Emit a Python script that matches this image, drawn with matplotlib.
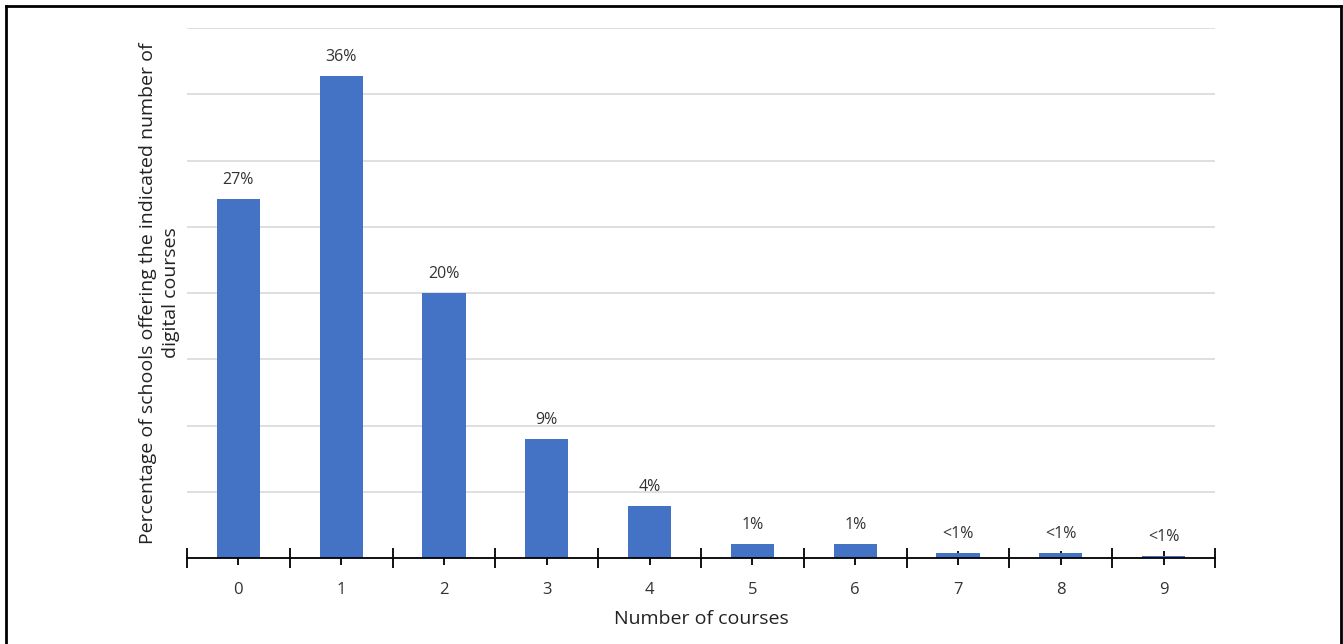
import matplotlib
matplotlib.use("Agg")
import matplotlib.pyplot as plt
from matplotlib.lines import Line2D

categories = ["0", "1", "2", "3", "4", "5", "6", "7", "8", "9"]
values = [27.1, 36.4, 20.0, 9.0, 3.9, 1.05, 1.05, 0.38, 0.38, 0.15]
labels = ["27%", "36%", "20%", "9%", "4%", "1%", "1%", "<1%", "<1%", "<1%"]

plt.rcParams['font.family'] = ['Open Sans', 'DejaVu Sans']

fig = plt.figure(figsize=(13.43, 6.44), dpi=100)
ax = fig.add_axes([187/1343, 1-558/644, (1215-187)/1343, (558-28)/644])

x = list(range(len(categories)))
ax.bar(x, values, width=0.42, color="#4472C4", zorder=3)
for xi, v, lab in zip(x, values, labels):
    ax.annotate(lab, (xi, v), xytext=(0, 8), textcoords="offset points",
                ha="center", va="bottom", fontsize=11.5, color="#333333")

ax.set_xlim(-0.5, 9.5)
ax.set_ylim(0, 40)
ax.set_yticks(range(0, 41, 5))
ax.yaxis.grid(True, color="#D9D9D9", linewidth=1.2, zorder=0)
ax.tick_params(axis="y", length=0, labelleft=False)
for s in ["top", "right", "left"]:
    ax.spines[s].set_visible(False)
ax.spines["bottom"].set_color("#000000")
ax.spines["bottom"].set_linewidth(1.3)
ax.spines["bottom"].set_zorder(4)

ax.set_xticks([i - 0.5 for i in range(11)])
ax.set_xticklabels([])
ax.tick_params(axis="x", which="major", direction="inout", length=14, width=1.3, color="#000000")
ax.set_xticks(x, minor=True)
ax.set_xticklabels(categories, minor=True, fontsize=12, color="#333333")
ax.tick_params(axis="x", which="minor", direction="inout", length=10, width=1.3, color="#000000", pad=12)

ax.set_xlabel("Number of courses", fontsize=14, color="#222222", labelpad=9)
ax.set_ylabel("Percentage of schools offering the indicated number of\ndigital courses",
              fontsize=14, color="#222222", labelpad=5, linespacing=1.35)

# figure border (top, left, right)
fig.add_artist(Line2D([6/1343, 6/1343], [0, 1-6/644], color="black", lw=2, transform=fig.transFigure))
fig.add_artist(Line2D([6/1343, 1341/1343], [1-6/644, 1-6/644], color="black", lw=2, transform=fig.transFigure))
fig.add_artist(Line2D([1341/1343, 1341/1343], [0, 1-6/644], color="black", lw=2, transform=fig.transFigure))

fig.savefig("out.png", dpi=100)
